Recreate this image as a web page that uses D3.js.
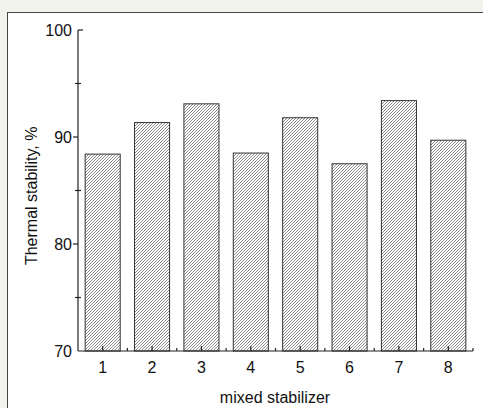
<!DOCTYPE html>
<html>
<head>
<meta charset="utf-8">
<script src="https://cdn.jsdelivr.net/npm/d3@7"></script>
<style>
    html, body { margin: 0; padding: 0; background: #f3f3ee; }
    svg { display: block; }
</style>
</head>
<body>
<div id="chart"></div>
<script>
// Chart data
const categories = [1, 2, 3, 4, 5, 6, 7, 8];
const stability = [88.4, 91.35, 93.1, 88.5, 91.8, 87.5, 93.4, 89.7];
const yTicks = [70, 80, 90, 100];
const yMinorTicks = [75, 85, 95];
const xLabel = "mixed stabilizer";
const yLabel = "Thermal stability, %";

const width = 483, height = 408;
const font = "'Liberation Sans', Arial, sans-serif";

let svg = d3.select("#chart").append("svg")
    .attr("width", width)
    .attr("height", height);

// Hatch pattern for the bars
let defs = svg.append("defs");
let pattern = defs.append("pattern")
    .attr("id", "hatch")
    .attr("patternUnits", "userSpaceOnUse")
    .attr("width", 3)
    .attr("height", 3);
pattern.append("rect")
    .attr("width", 3)
    .attr("height", 3)
    .attr("fill", "#ffffff");
pattern.append("path")
    .attr("d", "M -1 1 L 1 -1 M 0 3 L 3 0 M 2 4 L 4 2")
    .attr("stroke", "#707070")
    .attr("stroke-width", 0.8);

// White panel with a thin frame
svg.append("rect")
    .attr("x", 7.5)
    .attr("y", 12.5)
    .attr("width", width)
    .attr("height", height)
    .attr("fill", "#ffffff")
    .attr("stroke", "#444444")
    .attr("stroke-width", 1);

// Scales
let x = d3.scaleLinear().domain([0.5, 8.5]).range([78, 473]);
let y = d3.scaleLinear().domain([70, 100]).range([351, 30]);
let barWidth = (x(1) - x(0)) * 0.71;

// Bars
svg.append("g").selectAll("rect")
    .data(categories)
    .enter().append("rect")
        .attr("x", (d) => x(d) - barWidth / 2)
        .attr("y", (d, i) => y(stability[i]))
        .attr("width", barWidth)
        .attr("height", (d, i) => y(70) - y(stability[i]))
        .attr("fill", "url(#hatch)")
        .attr("stroke", "#333333")
        .attr("stroke-width", 1);

// Y axis (major ticks outward, minor ticks crossing)
let yAxis = svg.append("g").attr("stroke", "#222222").attr("stroke-width", 1.2);
yAxis.append("line")
    .attr("x1", x(0.5)).attr("x2", x(0.5))
    .attr("y1", y(100)).attr("y2", y(70));
yAxis.selectAll(".major")
    .data(yTicks.filter((d) => d < 100 && d > 70))
    .enter().append("line")
        .attr("x1", x(0.5) - 5).attr("x2", x(0.5))
        .attr("y1", (d) => y(d)).attr("y2", (d) => y(d));
yAxis.append("line")
    .attr("x1", x(0.5)).attr("x2", x(0.5) + 5)
    .attr("y1", y(100)).attr("y2", y(100));
yAxis.selectAll(".minor")
    .data(yMinorTicks)
    .enter().append("line")
        .attr("x1", x(0.5) - 3).attr("x2", x(0.5) + 3)
        .attr("y1", (d) => y(d)).attr("y2", (d) => y(d));

svg.append("g").selectAll("text")
    .data(yTicks)
    .enter().append("text")
        .attr("x", x(0.5) - 6)
        .attr("y", (d) => y(d) + 6)
        .attr("text-anchor", "end")
        .attr("font-family", font)
        .attr("font-size", 16)
        .attr("fill", "#111111")
        .text((d) => d);

// X axis (ticks point up)
let xAxis = svg.append("g").attr("stroke", "#222222").attr("stroke-width", 1.2);
xAxis.append("line")
    .attr("x1", x(0.5)).attr("x2", x(8.5))
    .attr("y1", y(70)).attr("y2", y(70));
xAxis.selectAll(".major")
    .data(categories)
    .enter().append("line")
        .attr("x1", (d) => x(d)).attr("x2", (d) => x(d))
        .attr("y1", y(70)).attr("y2", y(70) - 5);
xAxis.selectAll(".minor")
    .data(categories.map((d) => d + 0.5))
    .enter().append("line")
        .attr("x1", (d) => x(d)).attr("x2", (d) => x(d))
        .attr("y1", y(70)).attr("y2", y(70) - 3);

svg.append("g").selectAll("text")
    .data(categories)
    .enter().append("text")
        .attr("x", (d) => x(d))
        .attr("y", y(70) + 22)
        .attr("text-anchor", "middle")
        .attr("font-family", font)
        .attr("font-size", 16)
        .attr("fill", "#111111")
        .text((d) => d);

// Axis titles
svg.append("text")
    .attr("x", 275)
    .attr("y", 403)
    .attr("text-anchor", "middle")
    .attr("font-family", font)
    .attr("font-size", 16)
    .attr("fill", "#111111")
    .text(xLabel);

svg.append("text")
    .attr("transform", "translate(37," + y(84.5) + ") rotate(-90)")
    .attr("text-anchor", "middle")
    .attr("font-family", font)
    .attr("font-size", 16)
    .attr("fill", "#111111")
    .text(yLabel);
</script>
</body>
</html>
